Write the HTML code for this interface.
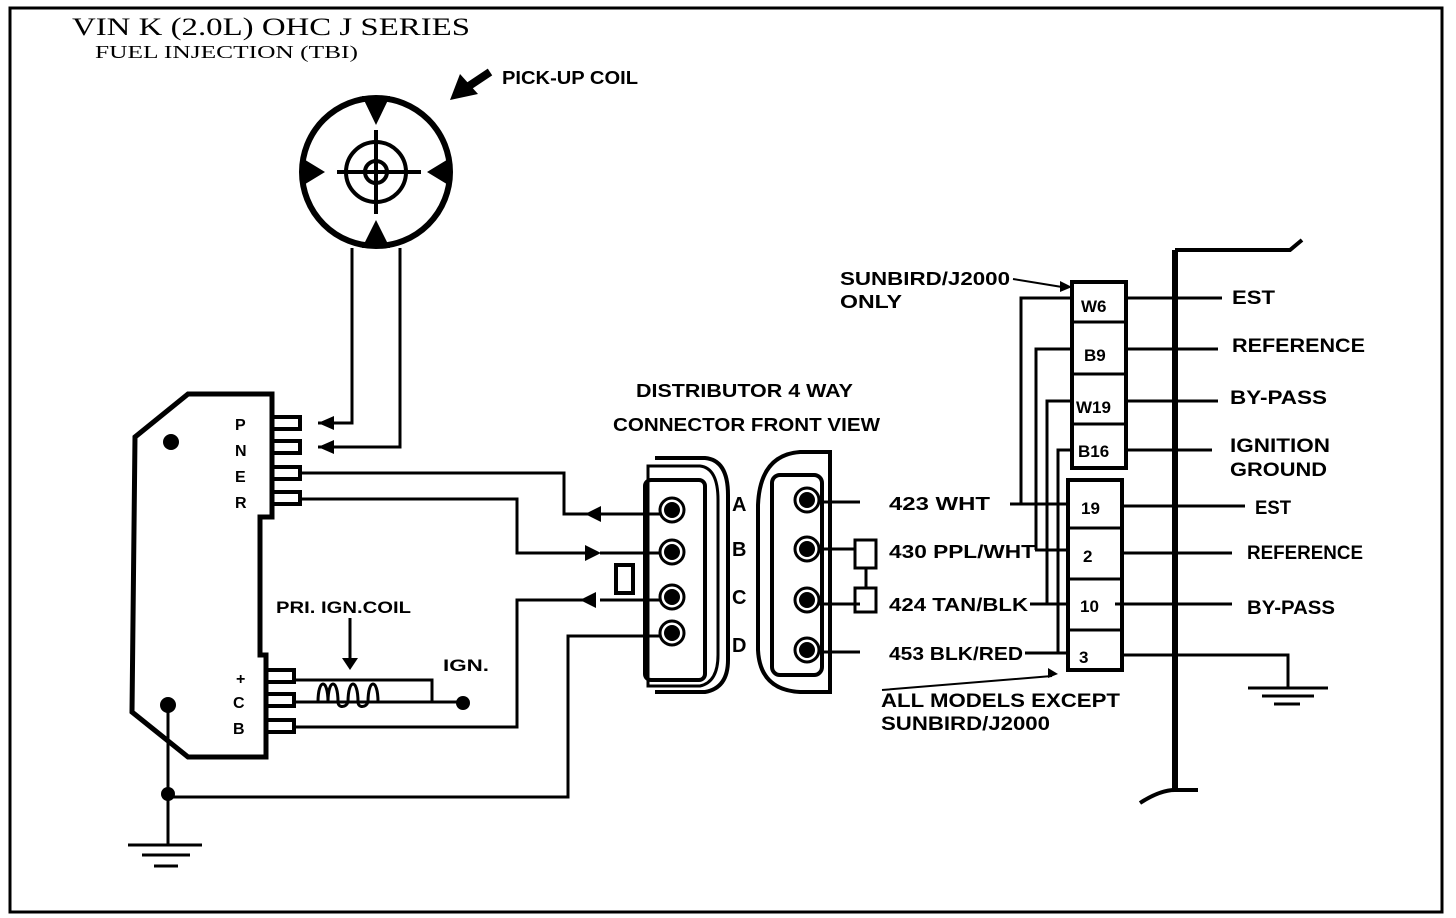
<!DOCTYPE html>
<html><head><meta charset="utf-8"><style>
html,body{margin:0;padding:0;background:#fff;}
svg{display:block;}
text{font-family:"Liberation Sans",sans-serif;font-weight:bold;fill:#000;}
.s{font-family:"Liberation Serif",serif;font-weight:normal;}
</style></head><body>
<svg width="1456" height="918" viewBox="0 0 1456 918" xmlns="http://www.w3.org/2000/svg">
<rect x="0" y="0" width="1456" height="918" fill="#fff"/>
<rect x="10" y="8" width="1432" height="904" fill="none" stroke="#000" stroke-width="3"/>
<text class="s" x="72" y="35" font-size="25" textLength="398" lengthAdjust="spacingAndGlyphs">VIN  K  (2.0L)  OHC  J  SERIES</text>
<text class="s" x="95" y="58" font-size="18" textLength="263" lengthAdjust="spacingAndGlyphs">FUEL  INJECTION  (TBI)</text>

<g fill="none" stroke="#000">
<circle cx="376" cy="172" r="74" stroke-width="6"/>
<circle cx="376" cy="172" r="30" stroke-width="4"/>
<circle cx="376" cy="172" r="11" stroke-width="4"/>
<path d="M337 172H421M376 130V214" stroke-width="4"/>
<path d="M352 248V423H318M400 248V447H318" stroke-width="3"/>
<path d="M135 437L188 394H272V517H260V655H266V757H188L132 712Z" stroke-width="5"/>
<path d="M272 417h28v12h-28M272 441h28v12h-28M272 467h28v12h-28M272 492h28v12h-28M266 670h28v12h-28M266 694h28v12h-28M266 720h28v12h-28" stroke-width="4"/>
<path d="M300 473H564V514H590M300 499H517V553H590M590 600H517V727H294M294 680H432V702H294M604 636H568V797H168M168 712V845M128 845H202M142 855H190M154 866H178" stroke-width="3"/>
<path d="M600 514H660M600 553H660M600 600H660M600 636H660" stroke-width="3"/>
<path d="M350 618V660M432 702H463" stroke-width="3"/>
<path d="M318 702c0-24 10-24 10 0c0-24 10-24 10 0c0 6 8 6 10 0c0-24 10-24 10 0c0 6 8 6 10 0c0-24 10-24 10 0" stroke-width="3"/>
<path d="M655 692H705Q728 688 728 660V495Q728 460 705 458H655" stroke-width="4"/>
<path d="M648 686H700Q718 682 718 655V500Q718 468 700 466H648Z" stroke-width="3"/>
<rect x="645" y="480" width="60" height="200" rx="6" stroke-width="4"/>
<path d="M616 565H633V593H616Z" stroke-width="4"/>
<circle cx="672" cy="510" r="12" stroke-width="3"/><circle cx="672" cy="552" r="12" stroke-width="3"/><circle cx="672" cy="597" r="12" stroke-width="3"/><circle cx="672" cy="633" r="12" stroke-width="3"/>
<path d="M800 452Q760 455 758 505V650Q760 690 800 692H830V452Z" stroke-width="4"/>
<rect x="772" y="475" width="50" height="200" rx="8" stroke-width="4"/>
<path d="M855 540H876V568H855ZM855 588H876V612H855ZM866 568V588" stroke-width="3"/>
<circle cx="807" cy="500" r="12" stroke-width="3"/><circle cx="807" cy="549" r="12" stroke-width="3"/><circle cx="807" cy="600" r="12" stroke-width="3"/><circle cx="807" cy="650" r="12" stroke-width="3"/>
<path d="M819 502H860M819 549H855M819 604H860M819 652H860" stroke-width="3"/>
<path d="M1010 504H1070M1035 550H1070M1030 604H1070M1025 653H1070" stroke-width="3"/>
<path d="M1070 298H1021V504M1070 349H1036V550M1070 401H1047V604M1070 450H1058V653" stroke-width="3"/>
<rect x="1072" y="282" width="54" height="186" stroke-width="4"/>
<path d="M1072 322H1126M1072 374H1126M1072 424H1126" stroke-width="3"/>
<rect x="1068" y="480" width="54" height="190" stroke-width="4"/>
<path d="M1068 528H1122M1068 579H1122M1068 630H1122" stroke-width="3"/>
<path d="M1126 298H1222M1126 349H1218M1126 401H1218M1126 450H1212M1122 506H1245M1122 553H1232M1115 604H1232M1122 655H1288V688M1248 688H1328M1262 696H1314M1274 704H1300" stroke-width="3"/>
<path d="M1175 250V790" stroke-width="6"/>
<path d="M1175 250H1290L1302 240M1140 803Q1160 790 1175 790H1198" stroke-width="4"/>
<path d="M1013 279L1062 287M882 690L1052 676" stroke-width="2"/>
<path d="M490 72L466 88" stroke-width="8"/>
</g>
<g fill="#000">
<path d="M450 100L460 74L478 94Z"/>
<path d="M318 423l16-7v14zM318 447l16-7v14z"/>
<path d="M585 514l16-8v16zM601 553l-16-8v16zM580 600l16-8v16z"/>
<path d="M350 670l-8-12h16z"/>
<path d="M1072 287l-12-6v11z"/>
<path d="M1058 674l-10-6v10z"/>
<circle cx="171" cy="442" r="8"/><circle cx="168" cy="705" r="8"/><circle cx="168" cy="794" r="7"/><circle cx="463" cy="703" r="7"/>
<circle cx="672" cy="510" r="8"/><circle cx="672" cy="552" r="8"/><circle cx="672" cy="597" r="8"/><circle cx="672" cy="633" r="8"/>
<circle cx="807" cy="500" r="8"/><circle cx="807" cy="549" r="8"/><circle cx="807" cy="600" r="8"/><circle cx="807" cy="650" r="8"/>
<path d="M302 158L325 172L302 186ZM450 158L427 172L450 186ZM362 96L376 125L390 96ZM362 248L376 220L390 248Z"/>
</g>
<g lengthAdjust="spacingAndGlyphs">
<text x="502" y="84" font-size="18" textLength="136" lengthAdjust="spacingAndGlyphs">PICK-UP COIL</text>
<text x="235" y="430" font-size="16">P</text><text x="235" y="456" font-size="16">N</text><text x="235" y="482" font-size="16">E</text><text x="235" y="508" font-size="16">R</text>
<text x="236" y="684" font-size="16">+</text><text x="233" y="708" font-size="16">C</text><text x="233" y="734" font-size="16">B</text>
<text x="276" y="613" font-size="17" textLength="135" lengthAdjust="spacingAndGlyphs">PRI. IGN.COIL</text>
<text x="443" y="671" font-size="17" textLength="46" lengthAdjust="spacingAndGlyphs">IGN.</text>
<text x="636" y="397" font-size="18" textLength="217" lengthAdjust="spacingAndGlyphs">DISTRIBUTOR 4 WAY</text>
<text x="613" y="431" font-size="18" textLength="267" lengthAdjust="spacingAndGlyphs">CONNECTOR FRONT VIEW</text>
<text x="732" y="511" font-size="20">A</text><text x="732" y="556" font-size="20">B</text><text x="732" y="604" font-size="20">C</text><text x="732" y="652" font-size="20">D</text>
<text x="889" y="510" font-size="18" textLength="101" lengthAdjust="spacingAndGlyphs">423  WHT</text>
<text x="889" y="558" font-size="18" textLength="146" lengthAdjust="spacingAndGlyphs">430  PPL/WHT</text>
<text x="889" y="611" font-size="18" textLength="139" lengthAdjust="spacingAndGlyphs">424  TAN/BLK</text>
<text x="889" y="660" font-size="18" textLength="134" lengthAdjust="spacingAndGlyphs">453  BLK/RED</text>
<text x="840" y="285" font-size="18" font-weight="normal" textLength="170" lengthAdjust="spacingAndGlyphs">SUNBIRD/J2000</text>
<text x="840" y="308" font-size="18" font-weight="normal" textLength="62" lengthAdjust="spacingAndGlyphs">ONLY</text>
<text x="881" y="707" font-size="19" font-weight="normal" textLength="239" lengthAdjust="spacingAndGlyphs">ALL MODELS EXCEPT</text>
<text x="881" y="730" font-size="19" font-weight="normal" textLength="169" lengthAdjust="spacingAndGlyphs">SUNBIRD/J2000</text>
<text x="1081" y="312" font-size="17">W6</text>
<text x="1084" y="361" font-size="17">B9</text>
<text x="1076" y="413" font-size="17">W19</text>
<text x="1078" y="457" font-size="17">B16</text>
<text x="1081" y="514" font-size="17">19</text>
<text x="1083" y="562" font-size="17">2</text>
<text x="1080" y="612" font-size="17">10</text>
<text x="1079" y="663" font-size="17">3</text>
<text x="1232" y="304" font-size="19" textLength="43" lengthAdjust="spacingAndGlyphs">EST</text>
<text x="1232" y="352" font-size="19" textLength="133" lengthAdjust="spacingAndGlyphs">REFERENCE</text>
<text x="1230" y="404" font-size="19" textLength="97" lengthAdjust="spacingAndGlyphs">BY-PASS</text>
<text x="1230" y="452" font-size="19" textLength="100" lengthAdjust="spacingAndGlyphs">IGNITION</text>
<text x="1230" y="476" font-size="19" textLength="97" lengthAdjust="spacingAndGlyphs">GROUND</text>
<text x="1255" y="514" font-size="19" textLength="36" lengthAdjust="spacingAndGlyphs">EST</text>
<text x="1247" y="559" font-size="19" textLength="116" lengthAdjust="spacingAndGlyphs">REFERENCE</text>
<text x="1247" y="614" font-size="19" textLength="88" lengthAdjust="spacingAndGlyphs">BY-PASS</text>
</g>
</svg>
</body></html>
